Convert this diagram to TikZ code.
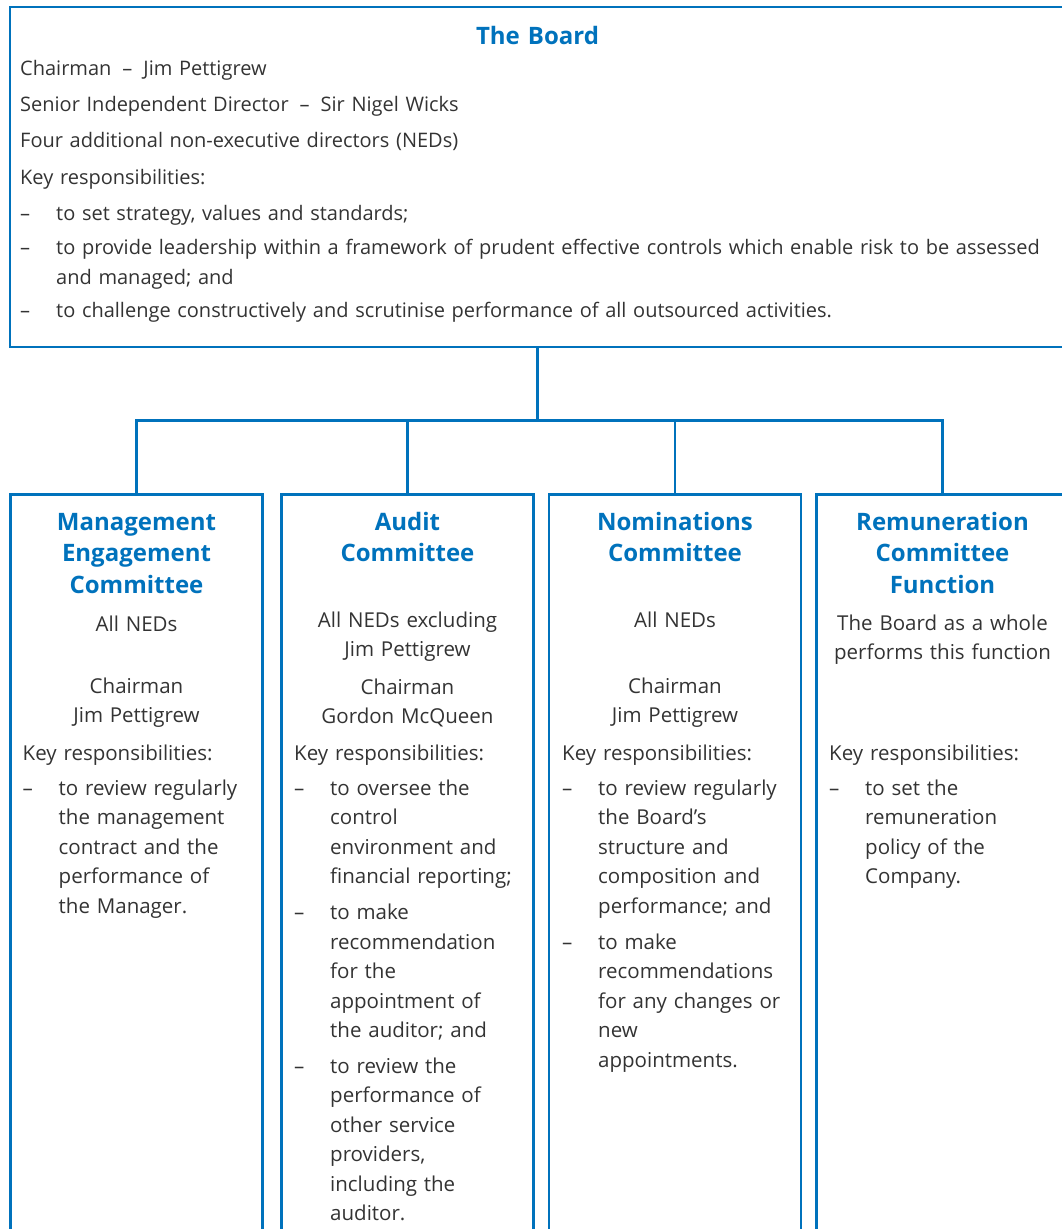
\documentclass[tikz,border=0pt]{standalone}
\usepackage{fontspec}
\setmainfont{Open Sans}
\usepackage{tikz}
\usetikzlibrary{positioning,calc}
\definecolor{govblue}{RGB}{0,114,188}
\definecolor{govgrey}{RGB}{51,51,51}
\tikzset{
  boardbox/.style={
    rectangle,
    draw=govblue, line width=2.6pt,
    minimum width=1055pt,
    minimum height=340pt,
    inner sep=0pt},
  combox/.style={
    rectangle,
    draw=govblue, line width=2.6pt,
    minimum width=252pt,
    minimum height=790pt,
    anchor=north,
    inner sep=0pt},
  headtext/.style={
    text=govblue,
    font=\bfseries\fontsize{24}{31.5}\selectfont,
    text width=245pt, align=center,
    anchor=base, inner sep=0pt},
  midtext/.style={
    text=govgrey,
    font=\fontsize{20.5}{29.5}\selectfont,
    text width=240pt, align=center,
    anchor=base, inner sep=0pt},
  keytext/.style={
    text=govgrey,
    font=\fontsize{20.5}{29.5}\selectfont,
    text width=270pt, align=left,
    anchor=base west, inner sep=0pt},
  link/.style={draw=govblue, line width=2.6pt},
}
\newcommand{\bul}{\makebox[36pt][l]{--}}
\newcommand{\ind}{\hspace*{36pt}}
\newcommand{\dsh}{\hspace{11pt}--\hspace{11pt}}

\begin{document}
\begin{tikzpicture}[x=1pt, y=1pt]
    \useasboundingbox (0,0) rectangle (1061,-1229);

    % The Board
    \node[boardbox] (board) at (537.5,-177) {};
    \node[headtext, text width=400pt] (board-t) at (537.5,-44) {The Board};
    \node[keytext, text width=1200pt, font=\fontsize{20}{29.5}\selectfont] (board-b) at (20,-75) {%
        Chairman\dsh Jim Pettigrew\\[6.5pt]
        Senior Independent Director\dsh Sir Nigel Wicks\\[7pt]
        Four additional non-executive directors (NEDs)\\[7pt]
        Key responsibilities:\\[7pt]
        \bul to set strategy, values and standards;\\[4.5pt]
        \bul to provide leadership within a framework of prudent effective controls which enable risk to be assessed\\
        \ind and managed; and\\[3.5pt]
        \bul to challenge constructively and scrutinise performance of all outsourced activities.};

    % Committees
    \node[combox] (mec) at (136.5,-493) {};
    \node[combox] (ac) at (407.5,-493) {};
    \node[combox] (nc) at (675,-493) {};
    \node[combox] (rc) at (942.5,-493) {};

    %% Management Engagement Committee
    \node[headtext] (mec-t) at (136.5,-530) {Management\\Engagement\\Committee};
    \node[midtext] (mec-m) at (136.5,-631) {All NEDs\\[32.5pt]Chairman\\Jim Pettigrew};
    \node[keytext] (mec-k) at (22.5,-760) {%
        Key responsibilities:\\[5.5pt]
        \bul to review regularly\\
        \ind the management\\
        \ind contract and the\\
        \ind performance of\\
        \ind the Manager.};

    %% Audit Committee
    \node[headtext] (ac-t) at (407.5,-530) {Audit\\Committee};
    \node[midtext] (ac-m) at (407.5,-627) {All NEDs excluding\\Jim Pettigrew\\[8pt]Chairman\\Gordon McQueen};
    \node[keytext] (ac-k) at (294,-760) {%
        Key responsibilities:\\[5.5pt]
        \bul to oversee the\\
        \ind control\\
        \ind environment and\\
        \ind financial reporting;\\[6.5pt]
        \bul to make\\
        \ind recommendation\\
        \ind for the\\
        \ind appointment of\\
        \ind the auditor; and\\[6pt]
        \bul to review the\\
        \ind performance of\\
        \ind other service\\
        \ind providers,\\
        \ind including the\\
        \ind auditor.};

    %% Nominations Committee
    \node[headtext] (nc-t) at (675,-530) {Nominations\\Committee};
    \node[midtext] (nc-m) at (675,-627) {All NEDs\\[36.5pt]Chairman\\Jim Pettigrew};
    \node[keytext] (nc-k) at (562,-760) {%
        Key responsibilities:\\[5.5pt]
        \bul to review regularly\\
        \ind the Board's\\
        \ind structure and\\
        \ind composition and\\
        \ind performance; and\\[6.5pt]
        \bul to make\\
        \ind recommendations\\
        \ind for any changes or\\
        \ind new\\
        \ind appointments.};

    %% Remuneration Committee Function
    \node[headtext] (rc-t) at (942.5,-530) {Remuneration\\Committee\\Function};
    \node[midtext] (rc-m) at (942.5,-630) {The Board as a whole\\performs this function};
    \node[keytext] (rc-k) at (829,-760) {%
        Key responsibilities:\\[5.5pt]
        \bul to set the\\
        \ind remuneration\\
        \ind policy of the\\
        \ind Company.};

    % Connectors
    \draw[link] (board.south) -- ++(0,-72) coordinate (hub);
    \draw[link] (mec.north) |- (hub) -| (rc.north);
    \draw[link] (ac.north) -- (ac.north |- hub);
    \draw[link] (nc.north) -- (nc.north |- hub);
\end{tikzpicture}
\end{document}
